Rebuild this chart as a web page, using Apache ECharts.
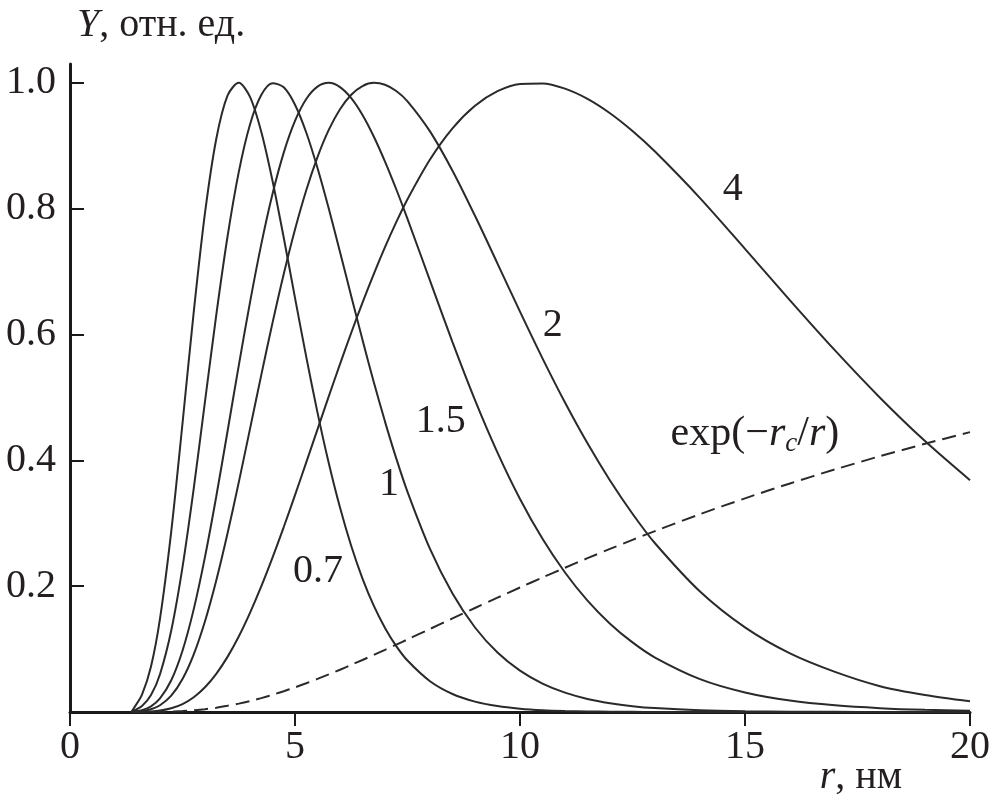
<!DOCTYPE html>
<html><head><meta charset="utf-8">
<script src="https://cdn.jsdelivr.net/npm/echarts@6/dist/echarts.min.js"></script>
<style>html,body{margin:0;padding:0;background:#fff}#c{width:995px;height:802px}</style>
</head><body><div id="c"></div>
<script>
// r, nm
const rValues = [1.36,1.4,1.6,1.8,2.0,2.25,2.5,2.75,3.0,3.25,3.5,3.75,4.0,4.25,4.5,4.75,5.0,
  5.25,5.5,5.75,6.0,6.25,6.5,6.75,7.0,7.25,7.5,
  8.0,8.5,9.0,9.5,10,10.5,
  11,11.5,12,12.5,13,14,15,16,17,18,19,20];

const y07 = [0,0.004,0.0277,0.0722,0.1483,0.2871,0.4586,0.636,0.7932,0.9108,0.9798,1.0,0.9777,0.9223,0.8444,0.7538,0.6583,
  0.5644,0.4759,0.3957,0.3249,0.2638,0.2121,0.169,0.1336,0.1048,0.0818,
  0.0489,0.0286,0.0165,0.0094,0.0053,0.0029,
  0.0016,0.0009,0.0005,0.0003,0.0001,0,0,0,0,0,0,0];
const y1 = [0,0.0015,0.0095,0.0269,0.0601,0.1295,0.2303,0.3556,0.4936,0.6309,0.7554,0.8582,0.9339,0.9806,0.9994,0.9929,0.9653,
  0.9211,0.8646,0.8002,0.7313,0.661,0.5915,0.5246,0.4616,0.4032,0.35,
  0.2592,0.1882,0.1343,0.0945,0.0657,0.0452,
  0.0308,0.0208,0.014,0.0093,0.0062,0.0027,0.0011,0.0005,0.0002,0.0001,0,0];
const y15 = [0,0.0007,0.003,0.009,0.0215,0.0504,0.0974,0.1635,0.2466,0.3426,0.4459,0.5506,0.6512,0.7433,0.8233,0.8891,0.9395,
  0.9743,0.994,1.0,0.9933,0.9757,0.949,0.9148,0.8749,0.8309,0.7838,
  0.6857,0.588,0.4959,0.4124,0.3387,0.2753,
  0.2217,0.177,0.1404,0.1106,0.0866,0.0523,0.0311,0.0182,0.0106,0.0061,0.0034,0.0019];
const y2 = [0,0.0003,0.0014,0.0043,0.0107,0.026,0.0524,0.0917,0.1443,0.209,0.2836,0.365,0.4501,0.5355,0.6185,0.6963,0.767,
  0.8294,0.8821,0.9252,0.9581,0.9812,0.9949,1.0,0.997,0.987,0.9707,
  0.9229,0.8604,0.7887,0.7128,0.6363,0.5621,
  0.4919,0.427,0.368,0.3151,0.2682,0.1915,0.1345,0.0931,0.0637,0.041,0.027,0.017];
const y4 = [0,0.0001,0.0003,0.0009,0.0023,0.0059,0.0126,0.0235,0.0393,0.0606,0.0876,0.12,0.1576,0.1995,0.2453,0.294,0.3448,
  0.3968,0.4493,0.5016,0.553,0.6028,0.6507,0.6961,0.7388,0.7786,0.8151,
  0.8782,0.9277,0.9636,0.9868,0.9983,0.9992,
  0.9909,0.9746,0.9518,0.9235,0.8908,0.8169,0.7362,0.6543,0.5747,0.4996,0.4306,0.3684];
const yExp = [0,0,0,0.0001,0.0003,0.0007,0.0015,0.0028,0.0045,0.0068,0.0098,0.0133,0.0174,0.0221,0.0273,0.033,0.0392,
  0.0457,0.0526,0.0598,0.0672,0.0749,0.0827,0.0907,0.0988,0.1071,0.1153,
  0.132,0.1487,0.1653,0.1817,0.1979,0.2138,
  0.2293,0.2445,0.2592,0.2736,0.2876,0.3144,0.3396,0.3633,0.3856,0.4066,0.4263,0.4449];

const curveNames = ['0.7','1','1.5','2','4'];
const curveValues = [y07, y1, y15, y2, y4];
const xTicks = [0,5,10,15,20];
const yTicks = [0.2,0.4,0.6,0.8,1.0];

// annotation anchor points (data coordinates)
const curveLabelAt = [[5.51,0.224],[7.09,0.361],[8.24,0.461],[10.73,0.614],[14.73,0.830]];
const expLabelAt = [15.22,0.442];

const FONT = 'Liberation Serif';
const INK = '#231f20';
const FS = 40;

const base = {
  type:'line', showSymbol:false, smooth:0.3, silent:true, animation:false,
  lineStyle:{color:'#2a2a2a', width:2}
};

const series = curveNames.map((nm, k) => Object.assign({}, base, {
  name: nm,
  data: rValues.map((r,i)=>[r, curveValues[k][i]]),
  markPoint: {
    symbol:'circle', symbolSize:0, silent:true, animation:false,
    label:{show:true, position:'inside', formatter: nm, fontFamily:FONT, fontSize:FS, color:INK},
    data:[{coord: curveLabelAt[k], value: nm}]
  }
}));

series.push(Object.assign({}, base, {
  name:'exp',
  data: rValues.map((r,i)=>[r, yExp[i]]),
  lineStyle:{color:'#2a2a2a', width:2, type:[14,7]},
  markPoint: {
    symbol:'circle', symbolSize:0, silent:true, animation:false,
    label:{show:true, position:'inside',
      formatter:'{n|exp(−}{i|r}{s|c}{n|/}{i|r}{n|)}',
      rich:{
        n:{fontFamily:FONT, fontSize:42, color:INK},
        i:{fontFamily:FONT, fontSize:42, color:INK, fontStyle:'italic'},
        s:{fontFamily:FONT, fontSize:27, color:INK, fontStyle:'italic', padding:[20,0,0,0]}
      }},
    data:[{coord: expLabelAt, value:'exp'}]
  }
}));

const richAxisName = {
  i:{fontFamily:FONT, fontSize:FS, color:INK, fontStyle:'italic', fontWeight:'normal'},
  n:{fontFamily:FONT, fontSize:FS, color:INK, fontWeight:'normal'}
};

const chart = echarts.init(document.getElementById('c'), null, {renderer:'canvas'});
chart.setOption({
  backgroundColor:'#fff',
  animation:false,
  title:[
    {text:'{i|Y}{n|, отн. ед.}', left:72, top:0,
     textStyle:{fontWeight:'normal', rich:richAxisName}},
    {text:'{i|r}{n|, нм}', right:88, top:752,
     textStyle:{fontWeight:'normal', rich:richAxisName}}
  ],
  grid:{left:70, right:25, top:64, bottom:90, containLabel:false},
  xAxis:{
    type:'value', min:0, max:20, interval:5,
    axisLine:{show:true, onZero:false, lineStyle:{color:'#1a1a1a', width:3}},
    axisTick:{show:true, inside:false, length:14, lineStyle:{color:'#1a1a1a', width:2}, customValues:xTicks},
    axisLabel:{fontFamily:FONT, fontSize:FS, color:INK, margin:15, customValues:xTicks},
    splitLine:{show:false}
  },
  yAxis:{
    type:'value', min:0, max:1.03,
    axisLine:{show:true, onZero:false, lineStyle:{color:'#1a1a1a', width:3}},
    axisTick:{show:true, inside:true, length:14, lineStyle:{color:'#1a1a1a', width:2}, customValues:yTicks},
    axisLabel:{fontFamily:FONT, fontSize:FS, color:INK, margin:14, customValues:yTicks,
      formatter:v=>v.toFixed(1)},
    splitLine:{show:false}
  },
  series: series
});
</script>
</body></html>
